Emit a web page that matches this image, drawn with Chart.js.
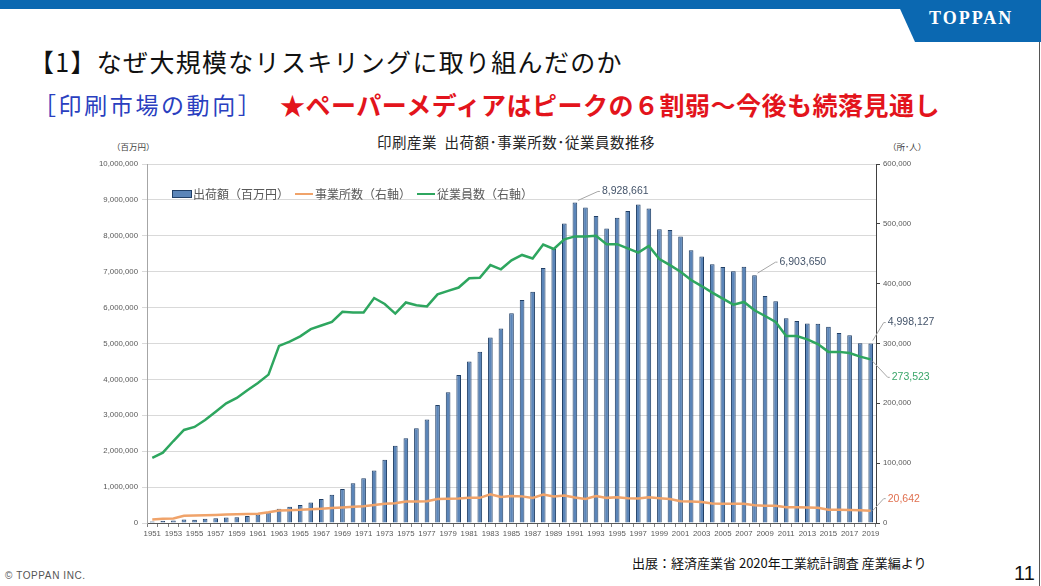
<!DOCTYPE html>
<html lang="ja">
<head>
<meta charset="utf-8">
<script src="https://cdn.jsdelivr.net/npm/chart.js@4.4.1/dist/chart.umd.min.js"></script>
<style>
html,body{margin:0;padding:0;background:#fff;}
body{width:1041px;height:586px;position:relative;overflow:hidden;font-family:'Noto Sans CJK JP',sans-serif;}
.abs{position:absolute;white-space:nowrap;}
#topbar{left:0;top:0;width:1041px;height:9px;background:#0b68b1;}
#tab{left:896px;top:0;width:145px;height:42px;background:#0b68b1;clip-path:polygon(0 0,100% 0,100% 100%,19px 100%);}
#tab span{position:absolute;left:33px;top:8px;color:#fff;font:bold 18px 'Liberation Serif',serif;letter-spacing:2px;}
#ttl{left:29px;top:45px;font-size:25px;line-height:32px;color:#111;letter-spacing:1.3px;}
#sub1{left:33px;top:89px;font-size:23px;line-height:30px;color:#2a3fc0;letter-spacing:2.6px;}
#sub2{left:280px;top:88px;font-size:25px;line-height:32px;color:#e3141c;font-weight:bold;letter-spacing:0.5px;}
#ctitle{left:0;width:1032px;text-align:center;top:133px;font-size:14.5px;line-height:18px;color:#262626;letter-spacing:0.5px;}
.unit{top:140px;font-size:8.5px;line-height:12px;color:#404040;}
#wrap{position:absolute;left:90px;top:150px;width:870px;height:395px;}
.lg{top:186px;font-size:12px;line-height:15px;color:#595959;}
.lgbox{position:absolute;top:190px;width:18px;height:6px;background:#5b85b8;border:1px solid #203f66;}
.lgline{position:absolute;top:192.5px;width:18px;height:2.5px;}
#src{left:632px;top:554px;font-size:13px;line-height:17px;color:#111;}
#copy{left:5px;top:570px;font:10px 'Liberation Sans',sans-serif;line-height:12px;color:#555;letter-spacing:0.6px;}
#page{left:1014px;top:561px;font:20px 'Liberation Sans',sans-serif;line-height:24px;color:#111;}
#edge{left:1039px;top:42px;width:1px;height:544px;background:#555;}
</style>
</head>
<body>
<div id="topbar" class="abs"></div>
<div id="tab" class="abs"><span>TOPPAN</span></div>
<div id="edge" class="abs"></div>
<div id="ttl" class="abs">【1】なぜ大規模なリスキリングに取り組んだのか</div>
<div id="sub1" class="abs">［印刷市場の動向］</div>
<div id="sub2" class="abs">★ペーパーメディアはピークの６割弱～今後も続落見通し</div>
<div id="ctitle" class="abs">印刷産業&nbsp; 出荷額･事業所数･従業員数推移</div>
<div class="abs unit" style="left:112px">（百万円）</div>
<div class="abs unit" style="left:888px">（所･人）</div>
<div id="wrap"><canvas id="c"></canvas></div>
<div class="lgbox" style="left:172px"></div>
<div class="abs lg" style="left:193px">出荷額（百万円）</div>
<div class="lgline" style="left:295px;background:#f0a36a"></div>
<div class="abs lg" style="left:315px">事業所数（右軸）</div>
<div class="lgline" style="left:417px;background:#2ea65f"></div>
<div class="abs lg" style="left:437px">従業員数（右軸）</div>
<div id="src" class="abs">出展：経済産業省 2020年工業統計調査 産業編より</div>
<div id="copy" class="abs">© TOPPAN INC.</div>
<div id="page" class="abs">11</div>

<script>
// ── DATA ──────────────────────────────────────────────────────────────────────
const years = ['1951','1952','1953','1954','1955','1956','1957','1958','1959','1960',
  '1961','1962','1963','1964','1965','1966','1967','1968','1969','1970',
  '1971','1972','1973','1974','1975','1976','1977','1978','1979','1980',
  '1981','1982','1983','1984','1985','1986','1987','1988','1989','1990',
  '1991','1992','1993','1994','1995','1996','1997','1998','1999','2000',
  '2001','2002','2003','2004','2005','2006','2007','2008','2009','2010',
  '2011','2012','2013','2014','2015','2016','2017','2018','2019'];

// 出荷額（百万円）
const shipments = [45000,60000,70000,95000,90000,115000,135000,150000,160000,195000,
  235000,290000,395000,450000,498000,572000,670000,786000,950000,1105000,
  1245000,1465000,1765000,2150000,2360000,2640000,2885000,3290000,3640000,4120000,
  4500000,4770000,5170000,5420000,5840000,6210000,6440000,7100000,7630000,8340000,
  8928661,8790000,8550000,8200000,8500000,8690000,8870000,8760000,8180000,8160000,
  7980000,7600000,7420000,7210000,7130000,7010000,7140000,6903650,6320000,6180000,
  5700000,5630000,5560000,5550000,5470000,5290000,5230000,5010000,4998127];

// 事業所数（右軸）
const offices = [6000,7000,7500,12000,12500,13000,13500,14000,14500,15000,
  15500,18000,21000,21500,22000,23000,24000,25000,26000,27000,
  28000,30000,32000,33000,36000,36000,36500,40000,40500,41000,
  42000,42000,48000,43500,45000,44500,42000,47500,44500,46000,
  42500,40000,45000,42000,43000,41500,41000,43000,41500,40000,
  36500,36000,35000,32500,32000,32000,32000,29500,29000,29000,
  26300,26500,26000,25500,22000,22000,21700,21500,20642];

// 従業員数（右軸）
const workers = [109000,117500,137000,155500,160500,172000,186000,200000,209000,222000,
  234000,248000,296000,303000,312000,324000,330000,336000,353000,352000,
  352000,376000,366000,350000,368500,364000,362000,382000,388000,393500,
  409000,410000,431000,424000,439000,448000,442000,465500,458000,474000,
  479000,479000,480000,466000,466000,459000,452000,463000,441000,431000,
  420000,406000,396000,385000,375000,365000,369500,355500,346000,336000,
  312500,312500,307000,299000,286000,286000,284000,278000,273523];

const leftTicks = {min:0, max:10000000, step:1000000};
const rightTicks = {min:0, max:600000, step:100000};

// ── CALLOUTS ──────────────────────────────────────────────────────────────────
const callouts = {
  id:'callouts',
  afterDatasetsDraw(chart, args, opts){
    const ctx = chart.ctx;
    ctx.save();
    opts.items.forEach(it=>{
      const idx = chart.data.labels.indexOf(it.year);
      const el = chart.getDatasetMeta(it.ds).data[idx];
      if(!el) return;
      const v = chart.data.datasets[it.ds].data[idx];
      ctx.strokeStyle = '#a6a6a6'; ctx.lineWidth = 1;
      ctx.beginPath();
      ctx.moveTo(el.x+it.a[0], el.y+it.a[1]);
      ctx.lineTo(el.x+it.b[0], el.y+it.b[1]);
      ctx.lineTo(el.x+it.b[0]+2, el.y+it.b[1]);
      ctx.stroke();
      ctx.fillStyle = it.color;
      ctx.font = "10.5px 'Liberation Sans', sans-serif";
      ctx.textAlign = 'left'; ctx.textBaseline = 'middle';
      ctx.fillText(v.toLocaleString('en-US'), el.x+it.b[0]+4, el.y+it.b[1]);
    });
    ctx.restore();
  }
};

Chart.defaults.font.family = "'Liberation Sans', 'Noto Sans CJK JP', sans-serif";
Chart.defaults.color = '#595959';

const fmt = v => Number(v).toLocaleString('en-US');

new Chart(document.getElementById('c'), {
  type:'bar',
  data:{
    labels: years,
    datasets:[
      {type:'bar', label:'出荷額(百万円)', data:shipments, yAxisID:'y', order:3,
       backgroundColor:'#5b85b8', borderColor:'#203f66',
       borderWidth:{left:1, right:1, top:1, bottom:0}, borderSkipped:false,
       barPercentage:0.44, categoryPercentage:1},
      {type:'line', label:'事業所数(右軸)', data:offices, yAxisID:'y1', order:2,
       borderColor:'#f0a36a', borderWidth:2.5, pointRadius:0, tension:0},
      {type:'line', label:'従業員数(右軸)', data:workers, yAxisID:'y1', order:1,
       borderColor:'#2ea65f', borderWidth:2.5, pointRadius:0, tension:0}
    ]
  },
  options:{
    responsive:true, maintainAspectRatio:false, animation:false,
    layout:{padding:{top:14, left:0, right:0, bottom:0}},
    plugins:{
      legend:{display:false}, tooltip:{enabled:false},
      callouts:{items:[
        {ds:0, year:'1991', color:'#44546a', a:[3,-2],  b:[23,-11]},
        {ds:0, year:'2008', color:'#44546a', a:[3,-2],  b:[21,-13]},
        {ds:0, year:'2019', color:'#44546a', a:[2,-3],  b:[13,-21]},
        {ds:2, year:'2019', color:'#3aa66a', a:[2,2],   b:[17,18]},
        {ds:1, year:'2019', color:'#e07050', a:[2,0],   b:[13,-12]}
      ]}
    },
    scales:{
      x:{
        offset:true,
        grid:{drawOnChartArea:false, color:'#7f7f7f', tickLength:4},
        border:{color:'#595959'},
        ticks:{autoSkip:false, maxRotation:0, minRotation:0, padding:2,
          font:{size:7.8},
          callback(v,i){ return i%2===0 ? this.getLabelForValue(v) : ''; }},
        afterFit(s){ s.height = 22; }
      },
      y:{
        position:'left', min:leftTicks.min, max:leftTicks.max,
        grid:{color:'#d9d9d9', tickLength:5},
        border:{color:'#a6a6a6'},
        ticks:{stepSize:leftTicks.step, padding:4, font:{size:7.8}, callback:fmt},
        afterFit(s){ s.width = 57; }
      },
      y1:{
        position:'right', min:rightTicks.min, max:rightTicks.max,
        grid:{drawOnChartArea:false, color:'#404040', tickLength:4},
        border:{color:'#404040'},
        ticks:{stepSize:rightTicks.step, padding:3, font:{size:7.8}, callback:fmt},
        afterFit(s){ s.width = 84; }
      }
    }
  },
  plugins:[callouts]
});
</script>
</body>
</html>
